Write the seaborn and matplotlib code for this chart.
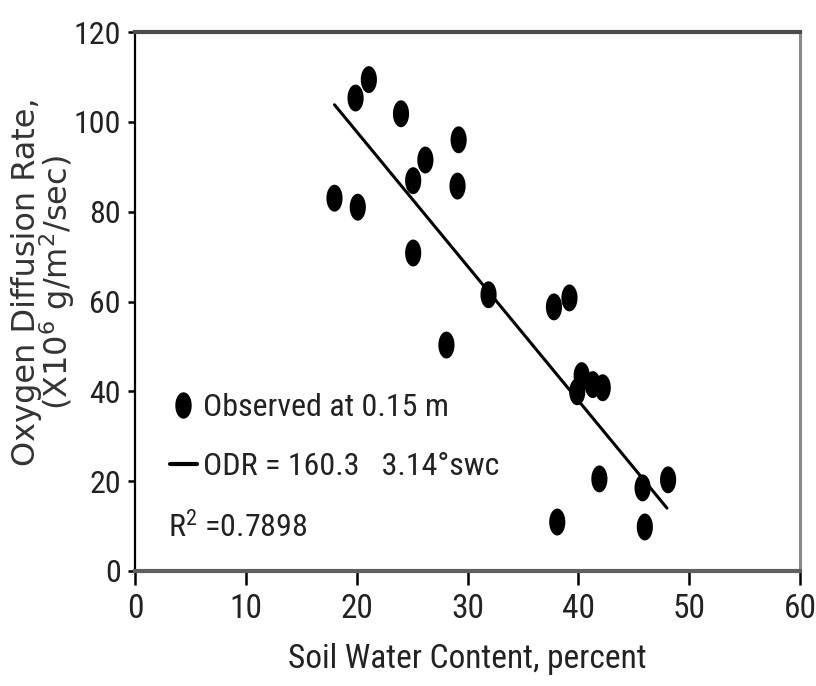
"""
Oxygen diffusion rate vs. soil water content, scatter with fitted line.
"""

# === Imports ===

import numpy as np
import pandas as pd
import matplotlib
matplotlib.use("Agg")
from matplotlib import pyplot as plt
from matplotlib import font_manager
from matplotlib.path import Path
from matplotlib.lines import Line2D
import seaborn as sns


# === Data ===

swc = [18.0, 19.9, 20.1, 21.1, 24.0, 25.1, 25.1, 26.2, 28.1, 29.1, 29.2, 31.9,
       37.8, 38.1, 39.2, 39.9, 40.3, 41.3, 42.2, 41.9, 45.8, 46.0, 48.1]
odr = [83.0, 105.3, 81.0, 109.4, 101.8, 86.9, 70.8, 91.5, 50.3, 85.7, 96.0, 61.5,
       58.8, 10.9, 60.8, 39.9, 43.5, 41.5, 40.8, 20.5, 18.5, 9.8, 20.3]

fit_swc = [18.0, 48.0]
fit_odr = [103.8, 14.0]

x_ticks = [0, 10, 20, 30, 40, 50, 60]
y_ticks = [0, 20, 40, 60, 80, 100, 120]

legend_labels = ["Observed at 0.15 m", "ODR = 160.3   3.14\u00b0swc"]
r2_text = "R$^{2}$ =0.7898"
xlabel = "Soil Water Content, percent"
ylabel = "Oxygen Diffusion Rate,\n(X10$^{6}$ g/m$^{2}$/sec)"


# === Fonts ===

def pick_narrow_font():
    """Look for a condensed sans font; fall back to Liberation Sans."""
    wanted = ["Liberation Sans Narrow", "Arial Narrow", "Roboto Condensed",
              "Open Sans Condensed", "Noto Sans Display", "DejaVu Sans"]
    found = {}
    for f in font_manager.fontManager.ttflist:
        if f.style != "normal" or f.weight not in (400, "normal", "regular", "book"):
            continue
        if "Narrow" in f.name or "Condensed" in f.name or f.stretch in (
                "condensed", "semi-condensed", "extra-condensed", 75, 87, 62):
            found.setdefault(f.name, f)
    for name in wanted:
        if name in found:
            return font_manager.FontProperties(fname=found[name].fname), True
    if found:
        f = list(found.values())[0]
        return font_manager.FontProperties(fname=f.fname), True
    return font_manager.FontProperties(family="Liberation Sans"), False


sns.set_style("white")
narrow_fp, is_narrow = pick_narrow_font()
plt.rcParams["font.family"] = ["Liberation Sans", "DejaVu Sans"]
plt.rcParams["mathtext.default"] = "regular"
scale = 1.0 if is_narrow else 0.86

# tall ellipse marker (the scanned dots are stretched vertically)
t = np.linspace(0, 2 * np.pi, 60)
ellipse = Path(np.column_stack([0.3 * np.cos(t), 0.5 * np.sin(t)]), closed=True)


def fp(size):
    p = narrow_fp.copy()
    p.set_size(size * scale)
    return p


# === Plot ===

df = pd.DataFrame({"swc": swc, "odr": odr})
fit = pd.DataFrame({"swc": fit_swc, "odr": fit_odr})

fig = plt.figure(figsize=(8.16, 6.86), dpi=100)
ax = fig.add_axes([135 / 816, 1 - 571 / 686, 665 / 816, 539 / 686])

sns.scatterplot(data=df, x="swc", y="odr", marker=ellipse, s=376,
                color="black", edgecolor="none", ax=ax, zorder=3)
sns.lineplot(data=fit, x="swc", y="odr", color="black", linewidth=2.2, ax=ax)

ax.set_xlim(0, 60)
ax.set_ylim(0, 120)
ax.set_xticks(x_ticks)
ax.set_yticks(y_ticks)
ax.tick_params(axis="x", direction="out", length=10, width=1.8, pad=6,
               colors="black", bottom=True)
ax.tick_params(axis="y", direction="out", length=5, width=1.8, pad=5,
               colors="black", left=True)
for lab in ax.get_xticklabels():
    lab.set_fontproperties(fp(24))
    lab.set_color("#222222")
for lab in ax.get_yticklabels():
    lab.set_fontproperties(fp(23))
    lab.set_color("#222222")

ax.spines["left"].set_color("black")
ax.spines["left"].set_linewidth(1.6)
ax.spines["bottom"].set_color("#606060")
ax.spines["bottom"].set_linewidth(3)
ax.spines["top"].set_color("#4a4a4a")
ax.spines["top"].set_linewidth(3)
ax.spines["right"].set_color("#8a8a8a")
ax.spines["right"].set_linewidth(2.2)

ax.set_xlabel(xlabel, fontproperties=fp(24), labelpad=13, color="#222222")
ax.set_ylabel(ylabel, fontsize=23, family=["DejaVu Sans"], color="#333333",
              linespacing=0.85, va="center")
ax.yaxis.set_label_coords(-0.137, 0.536)

#== Legend and fit statistics
handles = [Line2D([], [], marker=ellipse, markersize=18, color="black", linestyle="none"),
           Line2D([], [], color="black", linewidth=3)]
ax.legend(handles, legend_labels, loc="upper left", bbox_to_anchor=(0.052, 0.33),
          frameon=False, prop=fp(23), handlelength=0.85, handletextpad=0.2,
          labelspacing=0.95, borderpad=0, borderaxespad=0, labelcolor="#222222")
ax.text(0.05, 0.082, r2_text, transform=ax.transAxes, fontproperties=fp(23),
        va="center", ha="left", color="#222222")

fig.savefig("out.png", dpi=100)
plt.close()
